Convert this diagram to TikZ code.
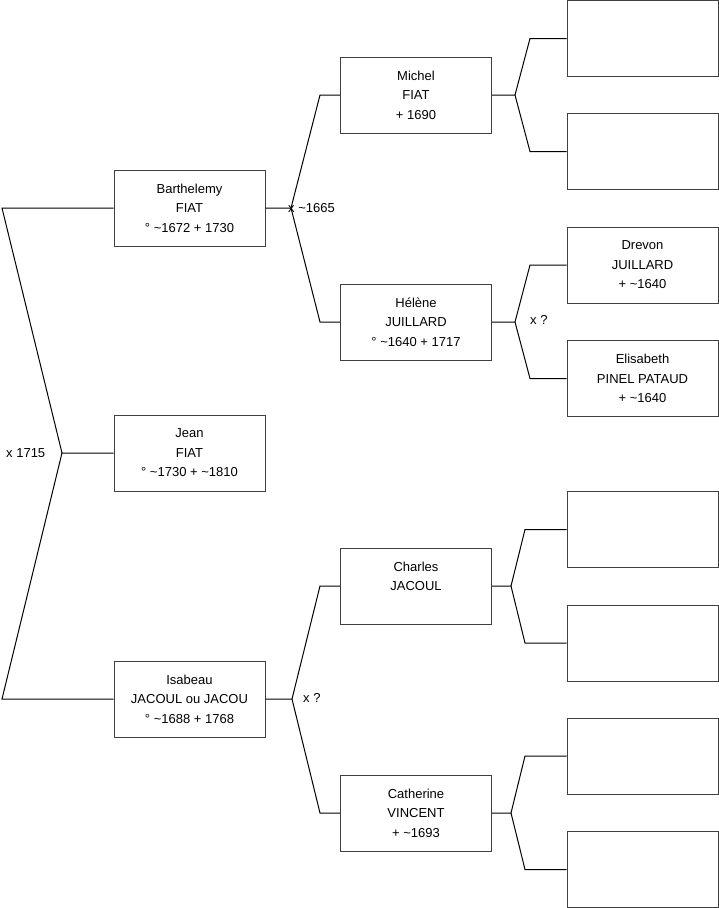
\documentclass[tikz,border=0pt]{standalone}
\usepackage{fontspec}
\setmainfont{Liberation Sans}
\newcommand{\tld}{\textasciitilde}

\tikzset{
  person/.style={draw=black!75,fill=white,line width=1pt,minimum width=151pt,minimum height=76pt,align=center,font=\fontsize{13}{19.5}\selectfont,inner sep=2pt},
  link/.style={draw=black,line width=1pt},
  union/.style={font=\fontsize{13}{15}\selectfont,anchor=west,inner sep=0pt}
}

\begin{document}
\begin{tikzpicture}[x=1pt,y=-1pt]
\useasboundingbox (0,0) rectangle (719,908);

% generation 1
\node[person] (p1) at (189.5,208) {Barthelemy\\FIAT\\° \tld1672 + 1730};
\node[person] (p0) at (189.5,453) {Jean\\FIAT\\° \tld1730 + \tld1810};
\node[person] (p2) at (189.5,699) {Isabeau\\JACOUL ou JACOU\\° \tld1688 + 1768};

% generation 2
\node[person] (p3) at (416,95) {Michel\\FIAT\\+ 1690};
\node[person] (p4) at (416,322) {Hélène\\JUILLARD\\° \tld1640 + 1717};
\node[person] (p5) at (416,586) {Charles\\JACOUL\\\mbox{}};
\node[person] (p6) at (416,813) {Catherine\\VINCENT\\+ \tld1693};

% generation 3
\node[person] (p7) at (642.5,38.5) {};
\node[person] (p8) at (642.5,151.5) {};
\node[person] (p9) at (642.5,265) {Drevon\\JUILLARD\\+ \tld1640};
\node[person] (p10) at (642.5,378.5) {Elisabeth\\PINEL PATAUD\\+ \tld1640};
\node[person] (p11) at (642.5,529.5) {};
\node[person] (p12) at (642.5,643) {};
\node[person] (p13) at (642.5,756) {};
\node[person] (p14) at (642.5,869.5) {};

% fork points
\coordinate (v0) at (62,453);   \coordinate (a0) at (2,208);   \coordinate (b0) at (2,699);
\coordinate (v1) at (291,208);  \coordinate (a1) at (320,95);  \coordinate (b1) at (320,322);
\coordinate (v2) at (292,699);  \coordinate (a2) at (320,586); \coordinate (b2) at (320,813);
\coordinate (v3) at (515,95);   \coordinate (a3) at (530,38.5);  \coordinate (b3) at (530,151.5);
\coordinate (v4) at (515,322);  \coordinate (a4) at (530,265);   \coordinate (b4) at (530,378.5);
\coordinate (v5) at (511,586);  \coordinate (a5) at (525,529.5); \coordinate (b5) at (525,643);
\coordinate (v6) at (511,813);  \coordinate (a6) at (525,756);   \coordinate (b6) at (525,869.5);

% links
\draw[link] (p0.west) -- (v0) -- (a0) -- (p1.west);
\draw[link] (v0) -- (b0) -- (p2.west);
\draw[link] (p1.east) -- (v1) -- (a1) -- (p3.west);
\draw[link] (v1) -- (b1) -- (p4.west);
\draw[link] (p2.east) -- (v2) -- (a2) -- (p5.west);
\draw[link] (v2) -- (b2) -- (p6.west);
\draw[link] (p3.east) -- (v3) -- (a3) -- (p7.west);
\draw[link] (v3) -- (b3) -- (p8.west);
\draw[link] (p4.east) -- (v4) -- (a4) -- (p9.west);
\draw[link] (v4) -- (b4) -- (p10.west);
\draw[link] (p5.east) -- (v5) -- (a5) -- (p11.west);
\draw[link] (v5) -- (b5) -- (p12.west);
\draw[link] (p6.east) -- (v6) -- (a6) -- (p13.west);
\draw[link] (v6) -- (b6) -- (p14.west);

% marriages
\node[union] (m0) at (6,453) {x 1715};
\node[union] (m1) at (288,208) {x \tld1665};
\node[union] (m2) at (303,698) {x ?};
\node[union] (m4) at (530,320) {x ?};
\end{tikzpicture}
\end{document}
